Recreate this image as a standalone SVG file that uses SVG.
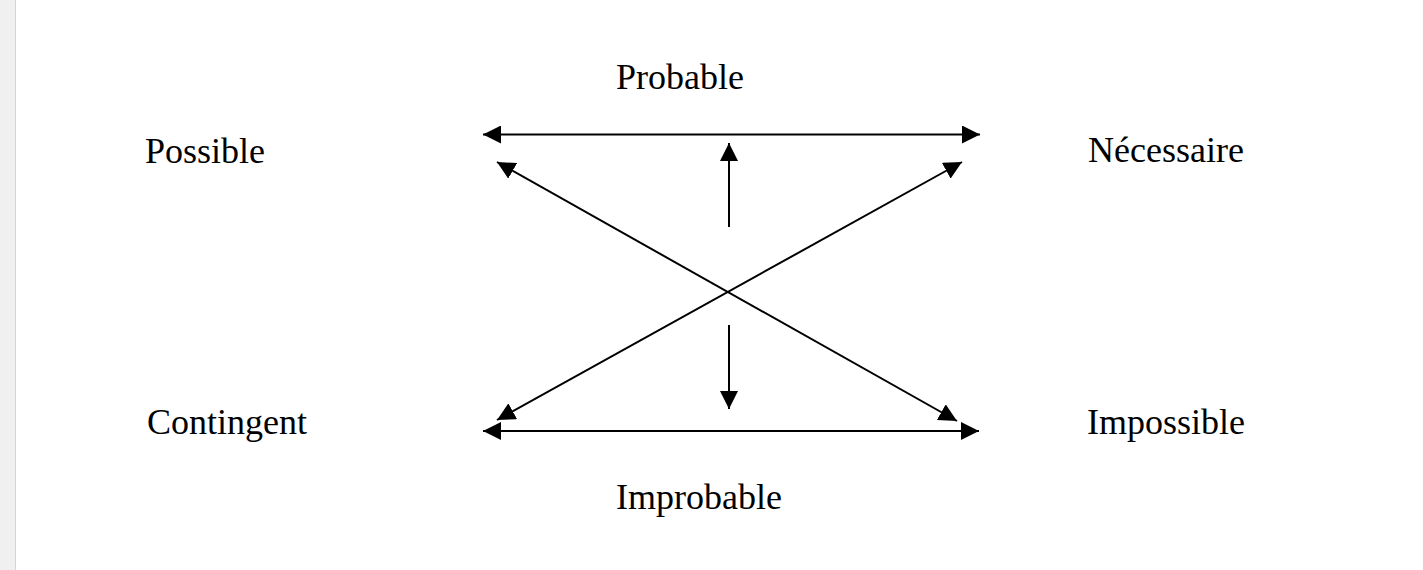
<svg xmlns="http://www.w3.org/2000/svg" width="1423" height="570" viewBox="0 0 1423 570">
  <style>
    .lbl { font-family: "Liberation Serif", "Times New Roman", serif; font-size: 36px; fill: #000; }
    .conn { stroke: #000; stroke-width: 2; fill: none; }
  </style>
  <defs>
    <marker id="ah" markerUnits="userSpaceOnUse" markerWidth="18" markerHeight="18" refX="18" refY="9" orient="auto-start-reverse" viewBox="0 0 18 18">
      <path d="M0,0 L18,9 L0,18 z" fill="#000"/>
    </marker>
  </defs>
  <rect x="0" y="0" width="1423" height="570" fill="#fff"/>
  <rect x="0" y="0" width="15" height="570" fill="#f0f0f0"/>
  <line x1="15.5" y1="0" x2="15.5" y2="570" stroke="#d4d4d4" stroke-width="1"/>

  <g id="node-probable"><text class="lbl" x="616" y="89">Probable</text></g>
  <g id="node-possible"><text class="lbl" x="145" y="163">Possible</text></g>
  <g id="node-necessaire"><text class="lbl" x="1088" y="162">Nécessaire</text></g>
  <g id="node-contingent"><text class="lbl" x="147" y="434">Contingent</text></g>
  <g id="node-impossible"><text class="lbl" x="1087" y="434">Impossible</text></g>
  <g id="node-improbable"><text class="lbl" x="616" y="509">Improbable</text></g>

  <g id="connectors">
    <line class="conn" x1="483" y1="134.5" x2="980" y2="134.5" marker-start="url(#ah)" marker-end="url(#ah)"/>
    <line class="conn" x1="483" y1="431" x2="979" y2="431" marker-start="url(#ah)" marker-end="url(#ah)"/>
    <line class="conn" x1="729" y1="227" x2="729" y2="143" marker-end="url(#ah)"/>
    <line class="conn" x1="729" y1="325" x2="729" y2="409" marker-end="url(#ah)"/>
    <line class="conn" x1="497" y1="162" x2="957" y2="421" marker-start="url(#ah)" marker-end="url(#ah)"/>
    <line class="conn" x1="497" y1="420" x2="962" y2="162" marker-start="url(#ah)" marker-end="url(#ah)"/>
  </g>
</svg>
